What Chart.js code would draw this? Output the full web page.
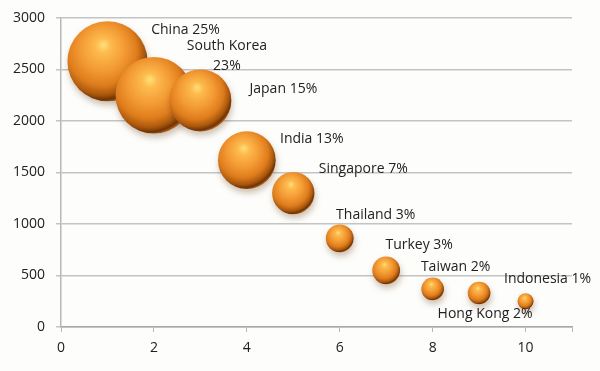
<!DOCTYPE html>
<html>
<head>
<meta charset="utf-8">
<script src="https://cdn.jsdelivr.net/npm/chart.js@4"></script>
<style>
  html, body { margin: 0; padding: 0; background: #fdfdfb; }
  #wrap { width: 600px; height: 371px; }
</style>
</head>
<body>
<div id="wrap"><canvas id="chart" width="600" height="371"></canvas></div>
<script>
// ===== DATA =====
const countries = ["China", "South Korea", "Japan", "India", "Singapore", "Thailand", "Turkey", "Taiwan", "Hong Kong", "Indonesia"];
const xValues = [1, 2, 3, 4, 5, 6, 7, 8, 9, 10];
const yValues = [2580, 2250, 2200, 1620, 1300, 860, 550, 370, 330, 250];
const shares = [25, 23, 15, 13, 7, 3, 3, 2, 2, 1];

// label placement relative to the bubble (px), not data
const labelOffsets = [
  [78, -31], [73, -39], [83, -11], [65, -21], [70, -24],
  [36, -23], [33, -25], [23, -22], [6, 21], [22, -22]
];

const FONT = "'Open Sans', sans-serif";

function bubbleRadius(i) {
  return 8 * Math.sqrt(shares[i]);
}

// ===== SPHERE SHADING =====
function sphereFill(ctx) {
  const chart = ctx.chart;
  const i = ctx.dataIndex;
  if (i === undefined || !chart.chartArea) return "#e88a28";
  const px = chart.scales.x.getPixelForValue(xValues[i]);
  const py = chart.scales.y.getPixelForValue(yValues[i]);
  const r = bubbleRadius(i);
  const g = chart.ctx.createRadialGradient(px - r * 0.1, py - r * 0.42, 0, px - r * 0.15, py - r * 0.2, r * 1.25);
  g.addColorStop(0, "#ffe27a");
  g.addColorStop(0.15, "#fdbb4e");
  g.addColorStop(0.45, "#f39a34");
  g.addColorStop(0.7, "#de7c1c");
  g.addColorStop(0.86, "#a8560c");
  g.addColorStop(0.94, "#6e3306");
  g.addColorStop(1, "#c06a1a");
  return g;
}

// ===== PLUGINS =====
const shadowPlugin = {
  id: "shadow",
  beforeDatasetsDraw(chart) {
    const c = chart.ctx;
    c.save();
    c.shadowColor = "rgba(90,50,10,0.3)";
    c.shadowBlur = 6;
    c.shadowOffsetX = 1;
    c.shadowOffsetY = 4;
  },
  afterDatasetsDraw(chart) {
    chart.ctx.restore();
  }
};

const labelPlugin = {
  id: "bubbleLabels",
  afterDatasetsDraw(chart) {
    const c = chart.ctx;
    const meta = chart.getDatasetMeta(0);
    c.save();
    c.font = "14px " + FONT;
    c.fillStyle = "#222";
    c.textAlign = "center";
    c.textBaseline = "middle";
    meta.data.forEach((pt, i) => {
      const lx = pt.x + labelOffsets[i][0];
      const ly = pt.y + labelOffsets[i][1];
      if (countries[i] === "South Korea") {
        c.fillText(countries[i], lx, ly - 10);
        c.fillText(shares[i] + "%", lx, ly + 10);
      } else {
        c.fillText(countries[i] + " " + shares[i] + "%", lx, ly);
      }
    });
    c.restore();
  }
};

// ===== CHART =====
const ctx = document.getElementById("chart").getContext("2d");
const bubbleChart = new Chart(ctx, {
  type: "bubble",
  data: {
    datasets: [{
      label: "Share",
      data: xValues.map((x, i) => ({ x: x, y: yValues[i] })),
      backgroundColor: sphereFill,
      borderWidth: 0,
      clip: false,
      radius: c => bubbleRadius(c.dataIndex)
    }]
  },
  options: {
    responsive: false,
    animation: false,
    layout: { autoPadding: false, padding: { top: 18, right: 28, left: 0, bottom: 0 } },
    plugins: {
      legend: { display: false },
      tooltip: { enabled: false }
    },
    scales: {
      x: {
        min: 0,
        max: 11,
        afterFit: s => { s.height = 44; s.paddingLeft = 0; s.paddingRight = 0; },
        ticks: {
          stepSize: 2,
          padding: 8,
          color: "#222",
          font: { family: FONT, size: 14 },
          callback: v => (v % 2 === 0 ? v : "")
        },
        grid: { drawOnChartArea: false, color: "#b8b8b8", tickLength: 5, lineWidth: 1 },
        border: { color: "#a8a8a8", width: 1.5 }
      },
      y: {
        min: 0,
        max: 3000,
        afterFit: s => { s.width = 61; s.paddingTop = 0; s.paddingBottom = 0; },
        ticks: {
          stepSize: 500,
          padding: 11,
          color: "#222",
          font: { family: FONT, size: 14 },
          callback: v => String(v)
        },
        grid: { color: "#c4c4c4", lineWidth: 1.5, tickLength: 5 },
        border: { color: "#b8b8b8", width: 1.5 }
      }
    }
  },
  plugins: [shadowPlugin, labelPlugin]
});
</script>
</body>
</html>
